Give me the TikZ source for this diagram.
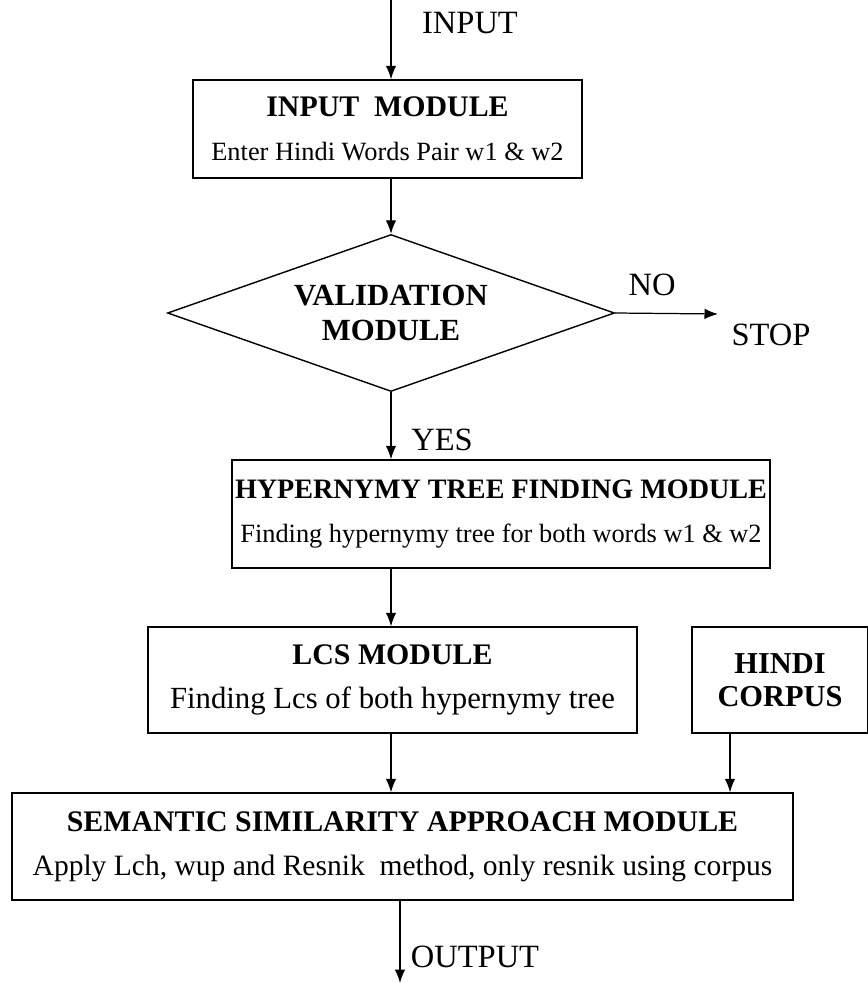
\documentclass[tikz,border=0pt]{standalone}
\usepackage{fontspec}
\setmainfont{Liberation Serif}
\usetikzlibrary{arrows.meta, positioning, shapes.geometric, calc}

\newcommand{\modtitle}[2][17]{{\fontsize{#1}{25}\selectfont\bfseries #2}}
\newcommand{\modtext}[2][15]{{\fontsize{#1}{25}\selectfont #2}}

\begin{document}
\begin{tikzpicture}[>={Latex[length=2.7mm, width=2.1mm]},
    modbox/.style={draw, line width=0.8pt, align=center, inner sep=0pt,
                   font=\fontsize{15}{25}\selectfont},
    lbl/.style={font=\fontsize{18.5}{20}\selectfont, inner sep=1pt},
    flow/.style={->, line width=0.7pt}]
  \useasboundingbox (0, 0) rectangle (17.36, -19.66);

  % Input and validation
  \coordinate (top) at (7.82, 0);
  \node[lbl] (inlbl) at (9.4, -0.46) {INPUT};
  \node[modbox, minimum width=7.78cm, minimum height=1.96cm] (inmod) at (7.75, -2.58)
    {\modtitle{INPUT~ MODULE}\\\modtext{Enter Hindi Words Pair w1 \& w2}};
  \node[diamond, draw, line width=0.8pt, minimum width=8.94cm, minimum height=3.14cm,
        shape aspect=2.85, inner sep=0pt, align=center,
        font=\fontsize{17.5}{20}\selectfont\bfseries]
    (valid) at (7.82, -6.26) {VALIDATION\\MODULE};
  \coordinate (stop) at (14.36, -6.28);
  \node[lbl] (nolbl) at (13.04, -5.7) {NO};
  \node[lbl] (stoplbl) at (15.42, -6.7) {STOP};
  \node[lbl] (yeslbl) at (8.84, -8.8) {YES};

  % Tree and LCS
  \node[modbox, minimum width=10.76cm, minimum height=2.16cm] (hyper) at (10.02, -10.28)
    {\modtitle[16]{HYPERNYMY TREE FINDING MODULE}\\\modtext{Finding hypernymy tree for both words w1 \& w2}};
  \node[modbox, minimum width=9.78cm, minimum height=2.12cm] (lcs) at (7.85, -13.6)
    {\modtitle{LCS MODULE}\\\modtext[17.5]{Finding Lcs of both hypernymy tree}};
  \node[modbox, minimum width=3.52cm, minimum height=2.12cm,
        font=\fontsize{17.3}{19}\selectfont\bfseries] (corpus) at (15.6, -13.6)
    {HINDI\\CORPUS};
  \coordinate (cx) at (14.6, 0);

  % Similarity
  \node[modbox, minimum width=15.62cm, minimum height=2.14cm] (sem) at (8.05, -16.93)
    {\modtitle{SEMANTIC SIMILARITY APPROACH MODULE}\\\modtext[16.8]{Apply Lch, wup and Resnik~ method, only resnik using corpus}};
  \coordinate (out) at (8.0, -19.66);
  \node[lbl] (outlbl) at (9.5, -19.14) {OUTPUT};

  \draw[flow] (top) -- (top |- inmod.north);
  \draw[flow] (top |- inmod.south) -- (valid.north);
  \draw[flow] (valid.east) -- (stop);
  \draw[flow] (valid.south) -- (valid.south |- hyper.north);
  \draw[flow] (valid.south |- hyper.south) -- (valid.south |- lcs.north);
  \draw[flow] (valid.south |- lcs.south) -- (valid.south |- sem.north);
  \draw[flow] (cx |- corpus.south) -- (cx |- sem.north);
  \draw[flow] (out |- sem.south) -- (out);
\end{tikzpicture}
\end{document}
